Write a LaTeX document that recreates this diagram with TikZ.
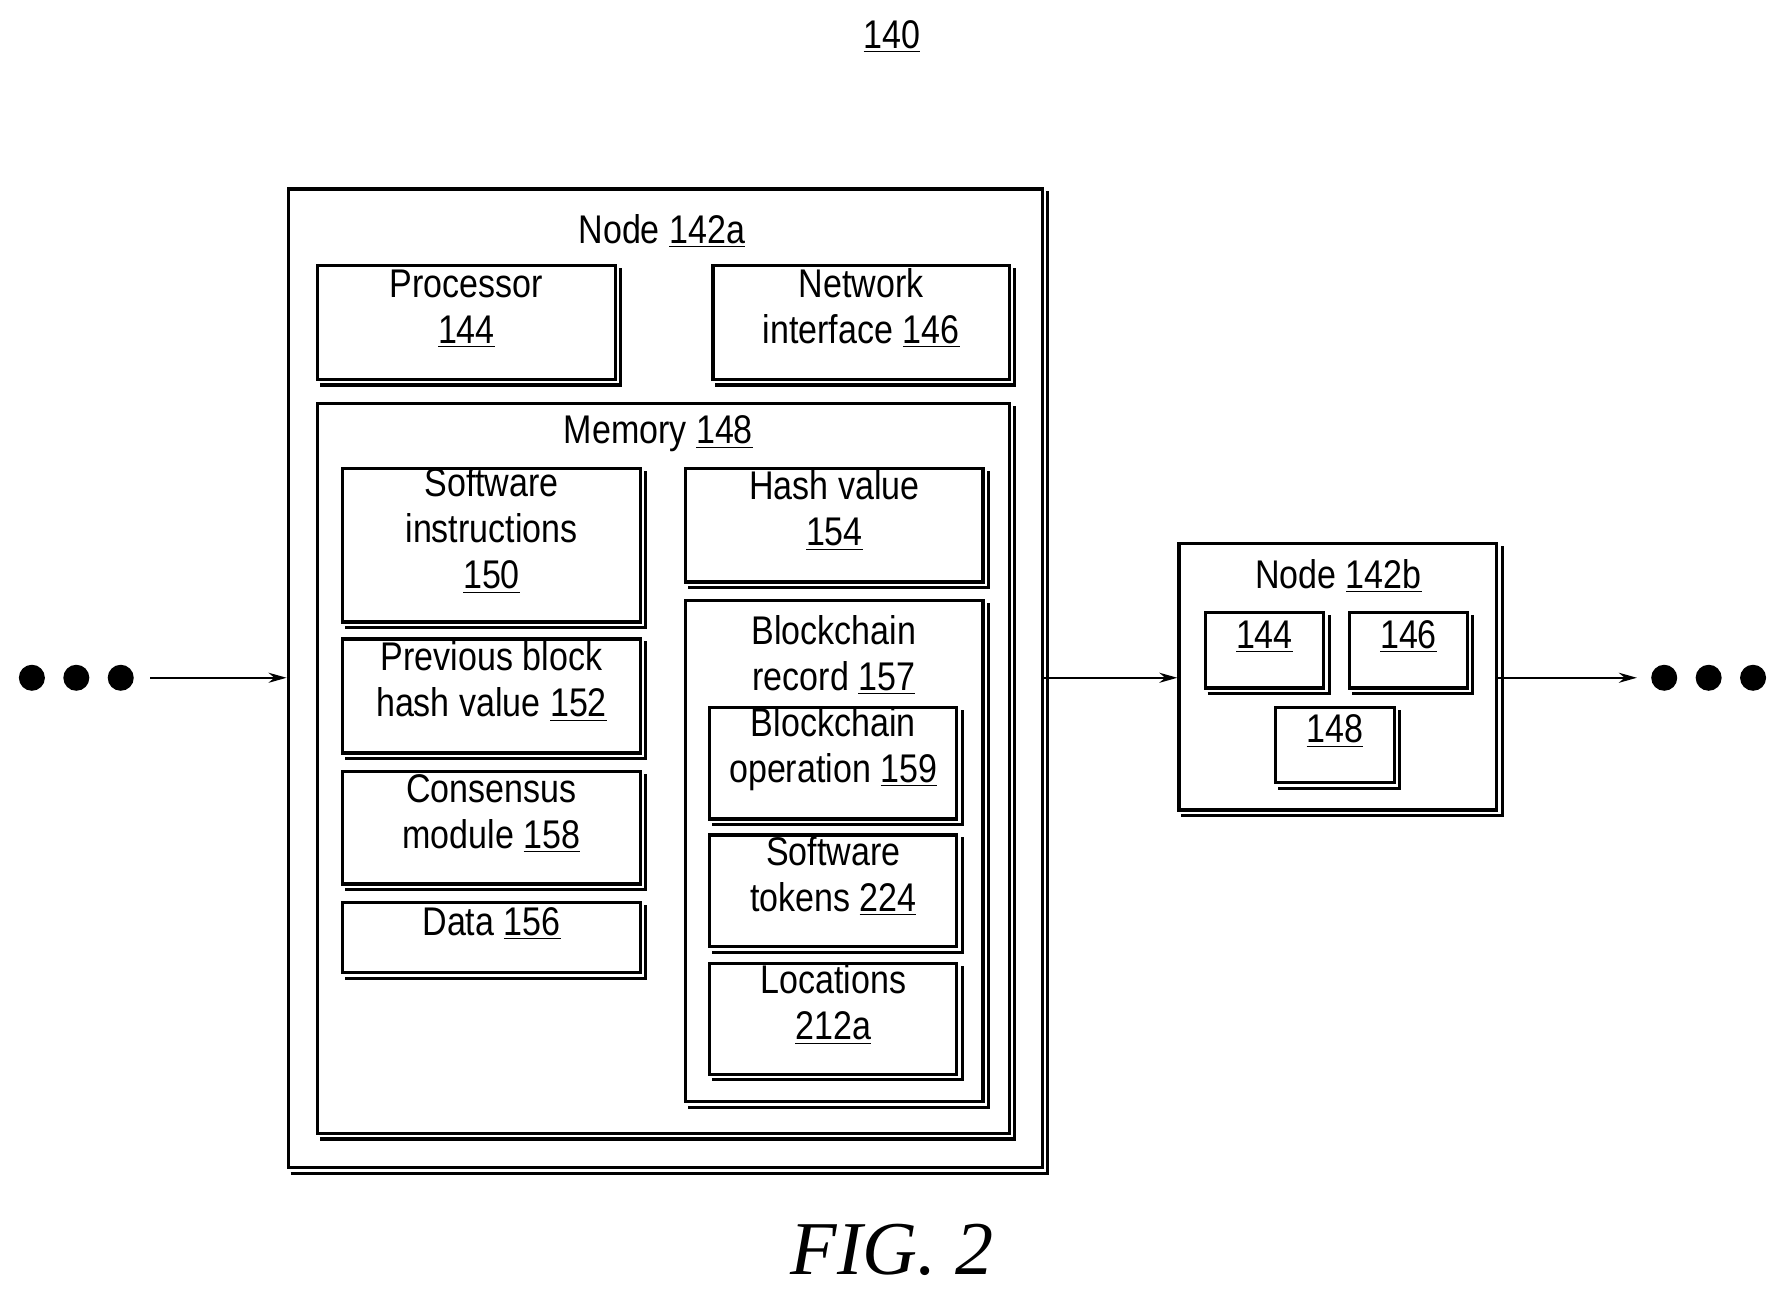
\documentclass[tikz,border=0pt]{standalone}
\usepackage{fontspec}
\setmainfont{Liberation Sans}[FakeStretch=0.85]
\newfontfamily\figfont{Liberation Serif}
\usetikzlibrary{fit,arrows.meta}
\newcommand{\und}[1]{\underline{#1}}
\begin{document}
\begin{tikzpicture}[x=0.02cm,y=-0.02cm,
  box/.style={draw,line width=1.6pt,inner sep=0pt,align=center,font=\fontsize{20}{23}\selectfont},
  shd/.style={line width=1.6pt},
  txt/.style={font=\fontsize{20}{23}\selectfont,align=center,inner sep=0pt},
  arr/.style={line width=1.2pt,-{Stealth[length=9pt,width=5pt]}},
  dot/.style={circle,fill,inner sep=0pt,minimum size=13pt}]
\useasboundingbox (0,0) rectangle (1560,1133);
\newcommand{\shad}[1]{\draw[shd] ([shift={(2pt,-2pt)}]#1.south west) -- ([shift={(2pt,-2pt)}]#1.south east) -- ([shift={(2pt,-2pt)}]#1.north east);}
\node[txt] (t140) at (783,32) {\und{140}};
\node[box,fit={(253,166)(915,1025)}] (n1) {}; \shad{n1}
\node[txt] (t1) at (581,203) {Node \und{142a}};
\node[box,fit={(279,233)(540,333)}] (proc) {Processor\\\und{144}}; \shad{proc}
\node[box,fit={(626,233)(886,333)}] (net) {Network\\interface \und{146}}; \shad{net}
\node[box,fit={(279,354)(886,995)}] (mem) {}; \shad{mem}
\node[txt] (tm) at (578,381) {Memory \und{148}};
\node[box,fit={(301,411)(562,546)}] (sw) {Software\\instructions\\\und{150}}; \shad{sw}
\node[box,fit={(301,561)(562,661)}] (prev) {Previous block\\hash value \und{152}}; \shad{prev}
\node[box,fit={(301,677)(562,776)}] (cons) {Consensus\\module \und{158}}; \shad{cons}
\node[box,fit={(301,792)(562,854)}] (data) {Data \und{156}}; \shad{data}
\node[box,fit={(602,411)(863,511)}] (hash) {Hash value\\\und{154}}; \shad{hash}
\node[box,fit={(602,527)(863,967)}] (rec) {}; \shad{rec}
\node[txt] (tr) at (732,575) {Blockchain\\record \und{157}};
\node[box,fit={(623,621)(840,719)}] (op) {Blockchain\\operation \und{159}}; \shad{op}
\node[box,fit={(623,733)(840,831)}] (tok) {Software\\tokens \und{224}}; \shad{tok}
\node[box,fit={(623,846)(840,943)}] (loc) {Locations\\\und{212a}}; \shad{loc}
\node[box,fit={(1035,477)(1314,711)}] (n2) {}; \shad{n2}
\node[txt] (t2) at (1175,506) {Node \und{142b}};
\node[box,fit={(1058,538)(1162,604)}] (b144) {\und{144}}; \shad{b144}
\node[box,fit={(1185,538)(1288,604)}] (b146) {\und{146}}; \shad{b146}
\node[box,fit={(1120,621)(1224,687)}] (b148) {\und{148}}; \shad{b148}
\node[dot] (d1) at (28,595) {}; \node[dot] (d2) at (67,595) {}; \node[dot] (d3) at (106,595) {};
\node[dot] (d4) at (1461,595) {}; \node[dot] (d5) at (1500,595) {}; \node[dot] (d6) at (1539,595) {};
\coordinate (a0) at (132,595); \coordinate (a3) at (1437,595);
\draw[arr] (a0) -- (n1.west|-a0);
\draw[arr] (n1.east|-a0) -- (n2.west|-a0);
\draw[arr] (n2.east|-a0) -- (a3);
\node[font=\figfont\itshape\fontsize{38}{40}\selectfont] (fig) at (783,1097) {FIG. 2};
\end{tikzpicture}
\end{document}
